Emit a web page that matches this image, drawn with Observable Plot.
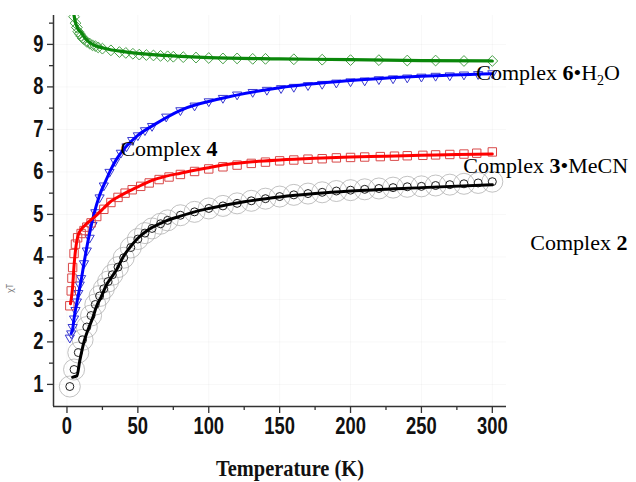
<!DOCTYPE html>
<html><head><meta charset="utf-8">
<script src="https://cdn.jsdelivr.net/npm/d3@7"></script>
<script src="https://cdn.jsdelivr.net/npm/@observablehq/plot@0.6"></script>
<style>
body{margin:0;background:#fff;}
#chart svg{overflow:visible;}
</style></head><body><div id="chart"></div>
<script>
// ---- axes ----
const xDomain = [-9.5, 310];
const yDomain = [0.48, 9.68];
const xTicks = [0, 50, 100, 150, 200, 250, 300];
const xMinor = [25, 75, 125, 175, 225, 275];
const yTicks = [1, 2, 3, 4, 5, 6, 7, 8, 9];
const yMinor = [1.5, 2.5, 3.5, 4.5, 5.5, 6.5, 7.5, 8.5, 9.5];
const xTitle = "Temperature (K)";
const yTitle = "χT";

// ---- Complex 6•H2O (green, diamonds) ----
const g6T = [4,5,6,7,8,9,10,11,12,14,16,18,20,22,25,31,37,41.5,46.5,51,56,61,66,71,75,82,91,100,110,120,131,140,160,180,200,220,240,260,280,300];
const g6V = [9.85,9.65,9.5,9.4,9.3,9.25,9.2,9.15,9.12,9.06,9.02,8.98,8.96,8.93,8.9,8.86,8.82,8.8,8.78,8.76,8.75,8.74,8.73,8.72,8.71,8.7,8.69,8.68,8.67,8.67,8.66,8.66,8.65,8.64,8.63,8.63,8.62,8.62,8.61,8.61];
const g6FitT = [4.5,5,6,7,8,10,12,15,20,25,30,40,50,60,80,100,150,200,250,300];
const g6FitV = [9.78,9.68,9.52,9.42,9.35,9.28,9.18,9.07,8.97,8.92,8.88,8.83,8.79,8.76,8.72,8.69,8.66,8.64,8.62,8.61];

// ---- Complex 4 (blue, down triangles) ----
const c4T = [2,3,4,5,6,7,8,9,10,12,14,16,18,20,23,26,30,34,38,42,46,50,55,60,70,80,90,100,110,120,131,141,151,160,170,180,190,200,210,220,230,240,250,260,270,280,290,300];
const c4V = [2.1,2.2,2.35,2.55,2.75,2.95,3.15,3.35,3.5,3.85,4.15,4.45,4.75,5.05,5.4,5.68,6.0,6.25,6.45,6.6,6.75,6.86,6.98,7.08,7.3,7.45,7.56,7.66,7.74,7.82,7.88,7.93,7.97,8.0,8.04,8.07,8.1,8.13,8.15,8.18,8.2,8.22,8.24,8.26,8.27,8.29,8.3,8.32];
const c4FitT = [3,4,5,6,8,10,12,15,19,23,27.5,31,35,40,45,50,61,80,108,150,200,250,300];
const c4FitV = [2.2,2.3,2.55,2.75,3.1,3.45,3.85,4.4,5.0,5.45,5.8,6.06,6.3,6.53,6.71,6.86,7.1,7.45,7.72,7.98,8.15,8.25,8.31];

// ---- Complex 3•MeCN (red, squares) ----
const c3T = [2,3,3.5,4,5,6,7.5,10,12,14,17,21,26,31,36,41,46,52,58,65,72,80,90,100,110,120,130,140,150,160,170,180,190,200,210,221,231,240,251,260,270,280,289,300];
const c3V = [2.85,3.2,3.5,3.75,4.08,4.3,4.45,4.55,4.62,4.7,4.8,4.95,5.12,5.28,5.4,5.5,5.58,5.66,5.74,5.82,5.88,5.94,6.01,6.07,6.12,6.16,6.2,6.23,6.26,6.28,6.3,6.31,6.33,6.34,6.35,6.36,6.37,6.38,6.39,6.4,6.41,6.42,6.44,6.47];
const c3FitT = [2.5,3,4,5,6,7,8,10,12,15,18,22,26,30,36,42,52,60,70,80,90,100,110,125,150,175,200,225,250,275,300];
const c3FitV = [2.9,3.0,3.3,3.8,4.15,4.38,4.52,4.65,4.72,4.82,4.9,5.02,5.15,5.28,5.41,5.52,5.68,5.8,5.9,5.97,6.04,6.1,6.16,6.22,6.28,6.32,6.35,6.37,6.39,6.41,6.42];

// ---- Complex 2 (black, circles) ----
const c2T = [2,5,8,11,14,17,20,23,26,29,32,36,40,45,50,55,60,66,71,80,90,100,110,120,130,140,150,160,170,180,190,200,210,220,230,240,250,260,270,280,290,300];
const c2V = [0.95,1.35,1.75,2.05,2.35,2.62,2.88,3.08,3.25,3.42,3.58,3.76,3.98,4.22,4.42,4.56,4.67,4.78,4.86,4.98,5.06,5.14,5.2,5.26,5.32,5.37,5.42,5.46,5.49,5.52,5.55,5.57,5.59,5.61,5.63,5.65,5.66,5.68,5.7,5.72,5.74,5.77];
const c2FitT = [4,7,9,12,15,18,21,24,28,31,35,40,45,50,55,60,70,80,90,100,125,150,175,200,250,300];
const c2FitV = [1.17,1.2,1.55,2.0,2.3,2.55,2.85,3.05,3.35,3.5,3.7,4.02,4.25,4.44,4.58,4.69,4.85,4.96,5.06,5.14,5.3,5.41,5.49,5.55,5.63,5.7];

// ---- labels ----
const labelParts = [
  [["Complex ", ""], ["6", "b"], ["•H", ""], ["2", "sub"], ["O", ""]],
  [["Complex ", ""], ["4", "b"]],
  [["Complex ", ""], ["3", "b"], ["•MeCN", ""]],
  [["Complex ", ""], ["2", "b"]]
];
const labelT = [288.7, 37.7, 279.5, 326.8];
const labelV = [8.32, 6.55, 6.13, 4.32];

const zip = (T, V) => T.map((t, i) => ({t, v: V[i]}));
const labels = labelParts.map((p, i) => ({t: labelT[i], v: labelV[i], s: p.map(d => d[0]).join("")}));

const sym = (f) => ({draw(ctx, size) { f(ctx, Math.sqrt(size / Math.PI)); }});
const diamond = sym((c, r) => { const a = r * 1.2; c.moveTo(0, -a); c.lineTo(a, 0); c.lineTo(0, a); c.lineTo(-a, 0); c.closePath(); });
const triDown = sym((c, r) => { c.moveTo(-r, -0.55 * r); c.lineTo(r, -0.55 * r); c.lineTo(0, 1.15 * r); c.closePath(); });
const square = sym((c, r) => { c.rect(-r, -r, 2 * r, 2 * r); });

const tickFont = "'Liberation Sans',Arial,sans-serif";
const serifFont = "'Liberation Serif','Times New Roman',serif";

const plot = Plot.plot({
  width: 636,
  height: 482,
  marginTop: 15,
  marginBottom: 76,
  marginLeft: 53,
  marginRight: 130,
  x: {domain: xDomain},
  y: {domain: yDomain},
  style: {background: "#fff", overflow: "visible"},
  marks: [
    Plot.gridY(yTicks, {stroke: "#000", strokeOpacity: 0.03}),
    Plot.gridX(xTicks, {stroke: "#000", strokeOpacity: 0.03}),
    // Complex 2 halos + circles
    Plot.dot(zip(c2T, c2V), {x: "t", y: "v", r: 10.5, stroke: "#a8a8a8", strokeWidth: 0.7, fill: "none", clip: true}),
    Plot.dot(zip(c2T, c2V), {x: "t", y: "v", r: 4, stroke: "#222", strokeWidth: 1, fill: "none", clip: true}),
    // markers
    Plot.dot(zip(g6T, g6V), {x: "t", y: "v", r: 4.5, symbol: diamond, stroke: "#48a048", strokeWidth: 1, fill: "none", clip: true}),
    Plot.dot(zip(c4T, c4V), {x: "t", y: "v", r: 4.6, symbol: triDown, stroke: "#3a3ad0", strokeWidth: 1, fill: "none", clip: true}),
    Plot.dot(zip(c3T, c3V), {x: "t", y: "v", r: 4.2, symbol: square, stroke: "#d84848", strokeWidth: 1, fill: "none", clip: true}),
    // fit lines
    Plot.line(zip(g6FitT, g6FitV), {x: "t", y: "v", stroke: "#0a870a", strokeWidth: 3.2, curve: "monotone-x", clip: true}),
    Plot.line(zip(c4FitT, c4FitV), {x: "t", y: "v", stroke: "#0000ff", strokeWidth: 3, curve: "monotone-x", clip: true}),
    Plot.line(zip(c3FitT, c3FitV), {x: "t", y: "v", stroke: "#ff0000", strokeWidth: 3, curve: "monotone-x", clip: true}),
    Plot.line(zip(c2FitT, c2FitV), {x: "t", y: "v", stroke: "#000", strokeWidth: 3, curve: "monotone-x", clip: true}),
    // axes
    Plot.ruleX([xDomain[0]], {stroke: "#333", strokeWidth: 1.5}),
    Plot.ruleY([yDomain[0]], {stroke: "#333", strokeWidth: 1.5}),
    Plot.axisY(yTicks, {tickSize: 6, tickPadding: 4, fontSize: 23, fontWeight: "bold", fontFamily: tickFont, fill: "#111", stroke: "#333", strokeWidth: 1.3, label: null}),
    Plot.axisY(yMinor, {tickSize: 4, text: null, stroke: "#333", strokeWidth: 1.3, label: null}),
    Plot.axisX(xTicks, {tickSize: 7, tickPadding: 4, fontSize: 23, fontWeight: "bold", fontFamily: tickFont, fill: "#111", stroke: "#333", strokeWidth: 1.3, label: null}),
    Plot.axisX(xMinor, {tickSize: 4, text: null, stroke: "#333", strokeWidth: 1.3, label: null}),
    Plot.text([xTitle], {frameAnchor: "bottom", dx: 10, dy: 69, text: d => d, fontSize: 24, fontWeight: "bold", fontFamily: serifFont, fill: "#111"}),
    Plot.text([yTitle], {frameAnchor: "left", dx: -43, dy: 82, rotate: -90, text: d => d, fontSize: 8, fill: "#777"}),
    // series labels
    Plot.text(labels, {x: "t", y: "v", text: "s", textAnchor: "start", lineAnchor: "middle", fontSize: 22, fontFamily: serifFont, fill: "#000"})
  ]
});

// rich text for labels (bold numbers, subscript)
d3.select(plot).selectAll("text").each(function() {
  const el = d3.select(this);
  const idx = labels.findIndex(l => l.s === this.textContent);
  if (idx < 0) return;
  el.text(null);
  labelParts[idx].forEach(([s, k]) => {
    const ts = el.append("tspan").text(s);
    if (k === "b") ts.attr("font-weight", "bold");
    if (k === "sub") ts.attr("font-size", 14).attr("dy", "0.3em");
    else if (k === "" && s === "O") ts.attr("dy", "-0.2em");
  });
});

document.getElementById("chart").append(plot);

// narrow (condensed) look for tick labels and axis title
d3.select(plot).selectAll("text").each(function() {
  const isTitle = this.textContent === xTitle;
  const ff = this.getAttribute("font-family") || (this.parentNode.getAttribute && this.parentNode.getAttribute("font-family")) || "";
  if (!isTitle && !ff.includes("Liberation Sans")) return;
  const w = this.getComputedTextLength();
  this.setAttribute("textLength", (w * (isTitle ? 0.85 : 0.8)).toFixed(1));
  this.setAttribute("lengthAdjust", "spacingAndGlyphs");
});
</script>
</body></html>
